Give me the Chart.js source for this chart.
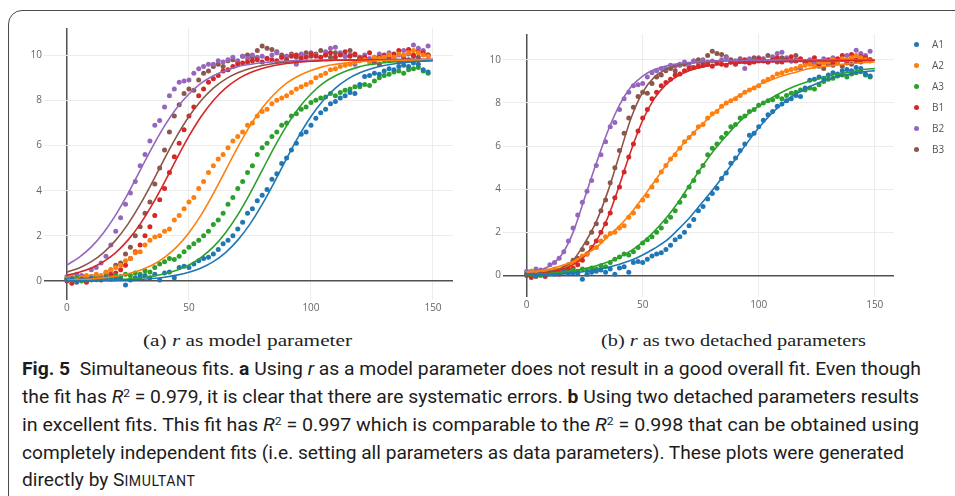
<!DOCTYPE html>
<html>
<head>
<meta charset="utf-8">
<script src="https://cdn.jsdelivr.net/npm/chart.js@4.4.1/dist/chart.umd.min.js"></script>
<style>
  html, body { margin:0; padding:0; background:#fff; }
  body { width:955px; height:496px; position:relative; overflow:hidden; }
  #frame { position:absolute; left:8px; top:10px; width:1100px; height:700px;
           border:1.5px solid #4a4a4a; border-radius:14px; box-sizing:border-box; }
  .plot { position:absolute; top:0; }
  .fit { position:absolute; display:inline-block; white-space:nowrap; transform-origin:0 50%; }
  .sub { font-family:"Liberation Serif", "DejaVu Serif", serif; font-size:16px; color:#222; line-height:20px; top:331px; }
  .cap { font-family:Roboto, "Noto Sans", sans-serif; font-size:19px; color:#1c1c1c; line-height:28px; left:22px; }
  .cap sup { font-size:0.62em; line-height:0; vertical-align:0.55em; }
  .sc { font-size:0.74em; letter-spacing:0.04em; }
  #legend { position:absolute; left:910px; top:34px; font-family:"Open Sans", sans-serif; font-size:10px; color:#555; }
  #legend div { position:relative; height:21px; line-height:21px; padding-left:22px; }
  #legend span { position:absolute; left:4px; top:8px; width:5px; height:5px; border-radius:50%; }
</style>
</head>
<body>
<div id="frame"></div>
<div class="plot" style="left:0;width:470px;height:330px"><canvas id="chartA" width="470" height="330"></canvas></div>
<div class="plot" style="left:480px;width:475px;height:330px"><canvas id="chartB" width="475" height="330"></canvas></div>
<div id="legend"></div>

<div class="fit sub" data-w="209" style="left:143px">(a) <i>r</i> as model parameter</div>
<div class="fit sub" data-w="265" style="left:601px">(b) <i>r</i> as two detached parameters</div>

<div class="fit cap" data-w="899" style="top:355px"><b>Fig. 5</b>&nbsp; Simultaneous fits. <b>a</b> Using <i>r</i> as a model parameter does not result in a good overall fit. Even though</div>
<div class="fit cap" data-w="897" style="top:383px">the fit has <i>R</i><sup>2</sup> = 0.979, it is clear that there are systematic errors. <b>b</b> Using two detached parameters results</div>
<div class="fit cap" data-w="897" style="top:411px">in excellent fits. This fit has <i>R</i><sup>2</sup> = 0.997 which is comparable to the <i>R</i><sup>2</sup> = 0.998 that can be obtained using</div>
<div class="fit cap" data-w="882" style="top:439px">completely independent fits (i.e. setting all parameters as data parameters). These plots were generated</div>
<div class="fit cap" style="top:466px">directly by S<span class="sc">IMULTANT</span></div>

<script>
// measured points, same data in both panels
const seriesNames = ['A1', 'A2', 'A3', 'B1', 'B2', 'B3'];
const seriesColors = ['#1f77b4', '#ff7f0e', '#2ca02c', '#d62728', '#9467bd', '#8c564b'];

const pointX = [0,2,4,6,8,10,12,14,16,18,20,22,24,26,28,30,32,34,36,38,40,42,44,46,48,50,52,54,56,58,
  60,62,64,66,68,70,72,74,76,78,80,82,84,86,88,90,92,94,96,98,100,102,104,106,108,110,112,114,116,118,
  120,122,124,126,128,130,132,134,136,138,140,142,144,146,148];

const a1Pts = [0.05,0.1,0.0,0.08,0.05,0.12,0.06,0.1,0.15,0.08,
  0.12,0.1,-0.18,0.05,0.15,0.2,0.25,0.15,0.3,0.05,
  0.35,0.4,0.15,0.6,0.65,0.6,0.75,0.9,1.0,1.05,
  1.2,1.4,1.65,1.8,2.0,2.3,2.6,3.0,3.2,3.55,
  3.8,4.05,4.5,4.75,5.2,5.45,5.8,6.1,6.5,6.6,
  6.9,7.2,7.45,7.6,7.85,7.95,8.1,8.2,8.35,8.3,
  8.7,9.05,9.1,9.2,9.15,9.3,9.4,9.35,9.5,9.55,
  9.5,9.65,9.6,9.35,9.25];
const a2Pts = [0.1,0.2,0.05,0.15,0.25,0.2,0.3,0.25,0.4,0.5,
  0.6,0.7,0.9,1.0,1.25,1.3,1.6,1.8,1.95,2.0,
  2.2,2.3,2.7,2.9,3.2,3.5,3.7,4.1,4.4,4.8,
  5.1,5.4,5.6,5.9,6.2,6.4,6.6,6.9,7.0,7.3,
  7.5,7.6,7.85,8.0,8.1,8.2,8.35,8.5,8.6,8.7,
  8.8,9.0,9.1,9.2,9.35,9.4,9.5,9.55,9.6,9.7,
  9.75,9.8,9.7,9.9,9.85,9.9,10.0,9.9,10.05,10.0,
  10.1,10.2,10.1,10.0,9.95];
const a3Pts = [0.1,0.05,0.15,0.0,0.1,0.05,0.15,0.1,0.2,0.15,
  0.25,0.2,0.3,0.25,0.35,0.3,0.45,0.4,0.6,0.75,
  0.85,1.0,0.95,1.1,1.3,1.5,1.65,1.8,2.0,2.2,
  2.5,2.7,3.0,3.4,3.7,4.1,4.4,4.8,5.1,5.6,
  5.9,6.1,6.4,6.6,6.9,7.0,7.3,7.4,7.6,7.7,
  7.9,8.0,8.1,8.15,8.3,8.2,8.35,8.45,8.5,8.6,
  8.6,8.7,8.65,8.85,9.0,9.1,9.15,9.25,9.3,9.2,
  9.35,9.4,9.45,9.3,9.2];
const b1Pts = [0.0,-0.1,0.1,0.05,-0.05,0.1,0.15,0.05,0.2,0.3,
  0.35,0.5,0.7,1.0,1.3,1.6,2.0,2.4,2.9,3.6,
  4.1,4.8,5.5,6.1,6.7,7.3,7.7,8.2,8.5,8.8,
  8.95,9.1,9.3,9.35,9.5,9.6,9.65,9.7,9.75,9.8,
  9.7,9.85,9.8,9.75,9.9,9.8,9.95,10.0,9.85,9.9,
  10.05,9.95,9.9,10.0,10.1,9.9,10.0,10.15,9.95,10.05,
  9.85,9.9,10.1,9.8,9.9,10.0,9.85,10.05,10.2,9.95,
  10.25,10.0,10.15,10.1,10.0];
const b2Pts = [0.2,0.05,0.3,0.25,0.15,0.5,0.6,0.8,1.1,1.6,
  2.2,2.8,3.4,3.9,4.4,5.1,5.6,6.2,6.9,7.1,
  7.7,8.2,8.5,8.8,8.85,8.9,9.2,9.4,9.5,9.6,
  9.6,9.75,9.7,9.8,9.9,9.75,9.95,9.85,10.0,9.9,
  9.95,9.85,10.0,10.1,9.9,9.95,10.0,9.6,10.05,9.95,
  10.1,10.0,9.9,10.15,10.3,10.35,10.1,9.95,10.0,9.6,
  9.9,10.0,9.85,9.9,10.05,9.9,10.1,9.85,10.0,10.2,
  10.05,10.45,10.3,10.2,10.4];
const b3Pts = [0.1,0.2,-0.05,0.15,0.05,0.2,0.25,0.15,0.35,0.5,
  0.7,0.8,1.2,1.5,2.0,2.4,3.0,3.5,4.3,5.0,
  5.8,6.6,7.3,7.8,8.3,8.5,8.45,8.9,9.2,9.3,
  9.5,9.6,9.5,9.75,9.8,9.7,9.95,10.0,9.9,10.2,
  10.4,10.3,10.25,10.15,10.0,9.95,10.05,9.9,10.0,10.1,
  9.95,10.05,10.2,10.0,9.9,10.1,10.05,9.95,10.2,10.0,
  9.9,9.85,9.75,9.7,9.6,9.8,9.75,9.9,9.7,9.85,
  9.8,9.95,9.9,10.05,10.0];

// fitted curves, sampled every 5
const fitX = [0,5,10,15,20,25,30,35,40,45,50,55,60,65,70,75,80,85,90,95,100,105,110,115,120,125,130,135,140,145,150];

// (a) r as model parameter
const a1FitA = [0.01,0.01,0.01,0.02,0.03,0.05,0.07,0.11,0.17,0.26,0.39,0.58,0.86,1.26,1.81,2.52,3.39,4.38,5.42,6.41,7.28,7.99,8.54,8.94,9.22,9.41,9.54,9.63,9.69,9.73,9.75];
const a2FitA = [0.04,0.06,0.09,0.14,0.21,0.32,0.48,0.71,1.05,1.51,2.14,2.93,3.87,4.9,5.93,6.87,7.66,8.28,8.76,9.09,9.32,9.49,9.59,9.66,9.71,9.74,9.76,9.77,9.78,9.79,9.79];
const a3FitA = [0.01,0.02,0.03,0.04,0.06,0.09,0.14,0.21,0.32,0.48,0.71,1.05,1.51,2.14,2.93,3.87,4.9,5.93,6.87,7.66,8.28,8.76,9.09,9.32,9.49,9.59,9.66,9.71,9.74,9.76,9.77];
const b1FitA = [0.26,0.39,0.58,0.86,1.26,1.81,2.52,3.39,4.38,5.42,6.41,7.28,7.99,8.54,8.94,9.22,9.41,9.54,9.63,9.69,9.73,9.75,9.77,9.78,9.78,9.79,9.79,9.79,9.8,9.8,9.8];
const b2FitA = [0.71,1.05,1.51,2.14,2.93,3.87,4.9,5.93,6.87,7.66,8.28,8.76,9.09,9.32,9.49,9.59,9.66,9.71,9.74,9.76,9.77,9.78,9.78,9.79,9.79,9.79,9.8,9.8,9.8,9.8,9.8];
const b3FitA = [0.39,0.58,0.86,1.26,1.81,2.52,3.39,4.38,5.42,6.41,7.28,7.99,8.54,8.94,9.22,9.41,9.54,9.63,9.69,9.73,9.75,9.77,9.78,9.78,9.79,9.79,9.79,9.8,9.8,9.8,9.8];

// (b) r as two detached parameters
const a1FitB = [0.02,0.03,0.05,0.08,0.12,0.18,0.27,0.38,0.52,0.7,0.95,1.25,1.6,2.1,2.65,3.3,3.95,4.65,5.4,6.15,6.85,7.45,7.95,8.35,8.65,8.9,9.1,9.25,9.35,9.45,9.5];
const a2FitB = [0.15,0.2,0.3,0.45,0.65,0.95,1.3,1.8,2.3,2.9,3.6,4.35,5.1,5.8,6.4,6.95,7.45,7.9,8.25,8.55,8.85,9.05,9.25,9.4,9.55,9.65,9.72,9.78,9.83,9.87,9.9];
const a3FitB = [0.05,0.07,0.1,0.15,0.22,0.32,0.45,0.62,0.85,1.15,1.55,2.05,2.65,3.35,4.15,4.95,5.7,6.35,6.95,7.45,7.85,8.2,8.5,8.75,8.95,9.1,9.25,9.35,9.45,9.55,9.6];
const b1FitB = [0.05,0.08,0.15,0.27,0.5,0.9,1.6,2.7,4.2,5.8,7.2,8.2,8.85,9.25,9.5,9.65,9.75,9.8,9.85,9.87,9.9,9.9,9.92,9.93,9.94,9.95,9.95,9.96,9.96,9.97,9.97];
const b2FitB = [0.12,0.22,0.45,0.95,2.0,3.6,5.2,6.7,7.9,8.75,9.25,9.55,9.72,9.82,9.88,9.92,9.95,9.96,9.97,9.98,9.98,9.99,9.99,10,10,10,10,10,10,10,10];
const b3FitB = [0.05,0.09,0.17,0.35,0.7,1.5,2.5,3.9,5.6,7.3,8.5,9.2,9.55,9.75,9.85,9.9,9.93,9.95,9.96,9.97,9.98,9.98,9.99,9.99,10,10,10,10,10,10,10];

const xTicks = [0, 50, 100, 150];
const yTicks = [0, 2, 4, 6, 8, 10];

const pointSets = [a1Pts, a2Pts, a3Pts, b1Pts, b2Pts, b3Pts];
const fitSetsA = [a1FitA, a2FitA, a3FitA, b1FitA, b2FitA, b3FitA];
const fitSetsB = [a1FitB, a2FitB, a3FitB, b1FitB, b2FitB, b3FitB];

Chart.defaults.font.family = '"Open Sans", sans-serif';
Chart.defaults.font.size = 10;
Chart.defaults.color = '#666';

function buildDatasets(fits) {
  const ds = [];
  pointSets.forEach((vals, i) => {
    ds.push({
      type: 'scatter', label: seriesNames[i], order: 1,
      data: pointX.map((x, k) => ({ x: x, y: vals[k] })),
      pointRadius: 2.5, pointHoverRadius: 2.5, borderWidth: 0,
      backgroundColor: seriesColors[i], pointBorderWidth: 0
    });
  });
  fits.forEach((vals, i) => {
    ds.push({
      type: 'scatter', label: seriesNames[i] + ' fit', order: 0, showLine: true,
      data: fitX.map((x, k) => ({ x: x, y: vals[k] })),
      pointRadius: 0, borderColor: seriesColors[i], borderWidth: 1.6,
      cubicInterpolationMode: 'monotone', fill: false
    });
  });
  return ds;
}

function axis(min, max, ticks, fitSize, horiz) {
  return {
    type: 'linear', min: min, max: max,
    border: { display: false },
    grid: {
      drawTicks: false,
      color: c => c.tick && c.tick.value === 0 ? '#505050' : '#ececec',
      lineWidth: c => c.tick && c.tick.value === 0 ? 1.5 : 1
    },
    ticks: { padding: 2, color: '#666', font: { size: 10 } },
    afterBuildTicks: s => { s.ticks = ticks.map(v => ({ value: v })); },
    afterFit: s => { if (horiz) s.height = fitSize; else s.width = fitSize; }
  };
}

function makeChart(id, fits, pad, xr, yr, yw) {
  return new Chart(document.getElementById(id), {
    type: 'scatter',
    data: { datasets: buildDatasets(fits) },
    options: {
      responsive: false, animation: false, devicePixelRatio: 1,
      layout: { padding: pad },
      plugins: { legend: { display: false }, tooltip: { enabled: false } },
      scales: {
        x: axis(xr[0], xr[1], xTicks, 20, true),
        y: axis(yr[0], yr[1], yTicks, yw, false)
      }
    }
  });
}

makeChart('chartA', fitSetsA, { left: 0, top: 28, right: 17, bottom: 10 }, [-9.4, 158.2], [-0.84, 11.2], 44);
makeChart('chartB', fitSetsB, { left: 0, top: 34, right: 61, bottom: 13 }, [-10.2, 158.3], [-1.0, 11.2], 23);

// legend of panel b
const leg = document.getElementById('legend');
seriesNames.forEach((n, i) => {
  const row = document.createElement('div');
  row.innerHTML = '<span style="background:' + seriesColors[i] + '"></span>' + n;
  leg.appendChild(row);
});

// squeeze text lines to the measured widths; a line without a width keeps the previous factor
function fitText() {
  let last = 1;
  document.querySelectorAll('.fit').forEach(el => {
    el.style.transform = 'none';
    const w = el.getBoundingClientRect().width;
    const f = el.dataset.w ? el.dataset.w / w : last;
    last = f;
    el.style.transform = 'scaleX(' + f + ')';
  });
}
fitText();
document.fonts.ready.then(fitText);
</script>
</body>
</html>
